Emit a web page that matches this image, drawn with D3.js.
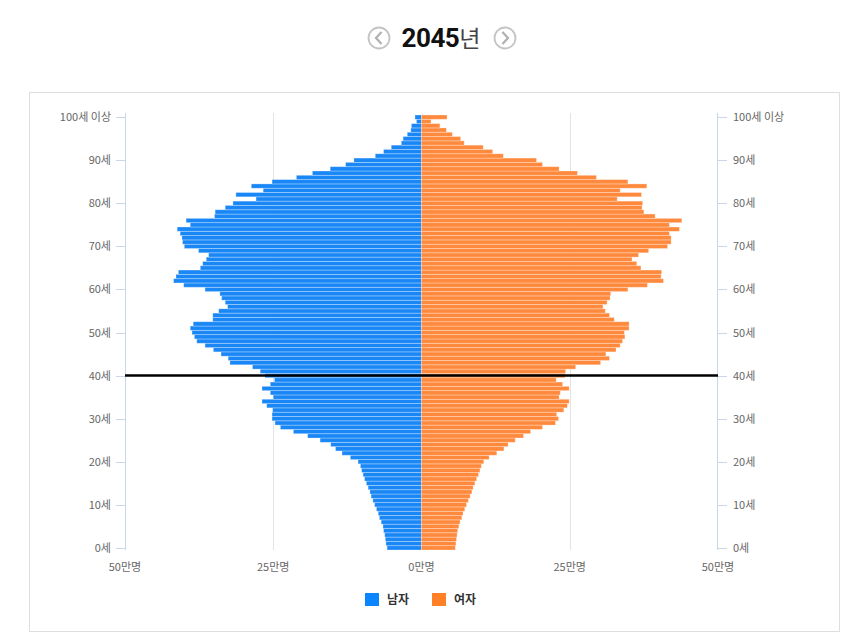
<!DOCTYPE html>
<html><head><meta charset="utf-8">
<script src="https://cdn.jsdelivr.net/npm/d3@7"></script>
<style>body{margin:0;background:#fff;font-family:"Noto Sans CJK KR","Noto Sans",sans-serif;}</style>
</head><body>
<svg id="c" width="850" height="637"></svg>
<script>
const title = "2045";
const titleSuffix = "년";
const ages = d3.range(0, 101);
const male = [5.8,6.0,6.1,6.2,6.4,6.5,6.8,7.1,7.3,7.6,7.9,8.2,8.5,8.7,9.0,9.3,9.6,9.85,10.1,10.3,
10.7,12.0,13.4,14.5,15.3,17.1,19.2,21.6,23.8,24.7,25.2,25.2,25.1,26.1,26.9,25.0,25.5,26.9,25.5,24.8,
26.4,27.2,28.5,32.3,32.6,33.8,35.1,36.5,37.9,38.3,38.7,39.0,38.5,35.2,35.2,34.2,32.7,33.1,33.7,34.0,
36.5,40.1,41.8,41.4,41.0,37.3,36.9,36.3,35.9,37.6,40.0,40.3,40.4,40.7,41.2,39.0,39.7,34.9,34.8,33.1,
31.8,27.9,31.3,26.7,28.7,25.2,21.1,18.4,15.4,12.8,11.4,7.8,6.4,5.1,3.4,3.1,2.4,1.8,1.7,0.85,1.1];
const female = [5.7,5.8,5.9,6.0,6.1,6.3,6.5,6.8,7.0,7.3,7.6,7.9,8.2,8.5,8.7,9.0,9.3,9.6,9.85,10.1,
10.5,11.4,12.7,13.9,14.6,15.8,17.2,18.4,20.4,22.6,23.1,22.8,24.0,24.6,24.9,23.2,23.4,24.9,23.8,22.7,
24.2,24.3,26.0,30.2,31.7,31.1,32.8,33.5,33.9,34.3,34.2,35.0,35.0,32.5,31.7,31.0,30.6,31.3,31.8,31.9,
34.8,38.1,40.8,40.4,40.5,37.0,36.3,35.5,36.6,38.3,41.5,42.1,42.1,41.8,43.5,41.8,43.9,39.4,37.5,37.2,
37.3,33.0,37.1,33.5,38.0,34.8,29.5,26.3,23.2,20.4,19.4,13.8,12.0,10.4,7.2,6.6,5.2,4.2,3.1,1.6,4.3];
const ageTicks = [0,10,20,30,40,50,60,70,80,90,100];
const ageTickLabels = ["0세","10세","20세","30세","40세","50세","60세","70세","80세","90세","100세 이상"];
const xTicks = [-50,-25,0,25,50];
const xTickLabels = ["50만명","25만명","0만명","25만명","50만명"];
const seriesNames = ["남자","여자"];
const markerAge = 40;

const svg = d3.select("#c");
const colors = ["#1a87f7","#ff8a3d"];
const legendColors = ["#0a84ff","#ff8026"];

// frame
svg.append("rect").attr("x",29.5).attr("y",92.5).attr("width",810).attr("height",539)
  .attr("fill","none").attr("stroke","#dedede");

const x = d3.scaleLinear().domain([-50,50]).range([125,718]);
const y = d3.scaleBand().domain(ages.slice().reverse()).range([115,550]).paddingInner(0);

// grid
svg.append("g").selectAll("line").data(xTicks.filter(d=>d!==-50 && d!==50)).join("line")
  .attr("x1",d=>Math.round(x(d))+0.5).attr("x2",d=>Math.round(x(d))+0.5)
  .attr("y1",113).attr("y2",550).attr("stroke","#e3e3e3").attr("stroke-width",1);

// bars
svg.append("g").selectAll("rect").data(ages).join("rect")
  .attr("x",d=>x(-male[d])).attr("width",d=>x(0)-x(-male[d]))
  .attr("y",d=>y(d)).attr("height",y.bandwidth())
  .attr("fill",colors[0]).attr("stroke","#fff").attr("stroke-opacity",0.35).attr("stroke-width",0.8);
svg.append("g").selectAll("rect").data(ages).join("rect")
  .attr("x",x(0)).attr("width",d=>x(female[d])-x(0))
  .attr("y",d=>y(d)).attr("height",y.bandwidth())
  .attr("fill",colors[1]).attr("stroke","#fff").attr("stroke-opacity",0.35).attr("stroke-width",0.8);

// left axis
const yc = d=>y(d)+y.bandwidth()/2;
const axisColor = "#ccd6eb";
svg.append("line").attr("x1",125.5).attr("x2",125.5).attr("y1",113).attr("y2",550).attr("stroke",axisColor);
svg.append("line").attr("x1",717.5).attr("x2",717.5).attr("y1",113).attr("y2",550).attr("stroke",axisColor);
const lg = svg.append("g");
ageTicks.forEach((a,i)=>{
  const yy = Math.round(yc(a))+0.5;
  lg.append("line").attr("x1",116).attr("x2",125).attr("y1",yy).attr("y2",yy).attr("stroke",axisColor);
  lg.append("line").attr("x1",718).attr("x2",727).attr("y1",yy).attr("y2",yy).attr("stroke",axisColor);
  lg.append("text").attr("x",111).attr("y",yy).attr("dy","0.35em").attr("text-anchor","end")
    .attr("font-size",11).attr("fill","#666").text(ageTickLabels[i]);
  lg.append("text").attr("x",733).attr("y",yy).attr("dy","0.35em").attr("text-anchor","start")
    .attr("font-size",11).attr("fill","#666").text(ageTickLabels[i]);
});
// bottom labels
svg.append("g").selectAll("text").data(xTicks).join("text")
  .attr("x",d=>x(d)).attr("y",571).attr("text-anchor","middle")
  .attr("font-size",11).attr("fill","#666").text((d,i)=>xTickLabels[i]);

// marker line
svg.append("line").attr("x1",125).attr("x2",718).attr("y1",yc(markerAge)).attr("y2",yc(markerAge))
  .attr("stroke","#000").attr("stroke-width",2.5);

// legend
const leg = svg.append("g");
[[365,387],[432,454]].forEach((p,i)=>{
  leg.append("rect").attr("x",p[0]).attr("y",593).attr("width",14).attr("height",13).attr("fill",legendColors[i]);
  leg.append("text").attr("x",p[1]).attr("y",600).attr("dy","0.35em").attr("font-size",12)
    .attr("font-weight","bold").attr("fill","#333").text(seriesNames[i]);
});

// title
const t = svg.append("text").attr("x",441).attr("y",47).attr("text-anchor","middle");
t.append("tspan").attr("font-size",26).attr("font-weight","bold").attr("fill","#111")
  .attr("font-family","Roboto, 'Noto Sans', sans-serif").attr("letter-spacing","-0.5").text(title);
t.append("tspan").attr("font-size",23).attr("fill","#444").text(titleSuffix);
// arrows
[[379,-1],[505,1]].forEach(([cx,dir])=>{
  svg.append("circle").attr("cx",cx).attr("cy",38).attr("r",10.5).attr("fill","#fff")
    .attr("stroke","#c4c4c4").attr("stroke-width",1.8);
  svg.append("path").attr("d",`M${cx-dir*2.5},${32} L${cx+dir*3},${38} L${cx-dir*2.5},${44}`)
    .attr("fill","none").attr("stroke","#b0b0b0").attr("stroke-width",2.2);
});
</script>
</body></html>
